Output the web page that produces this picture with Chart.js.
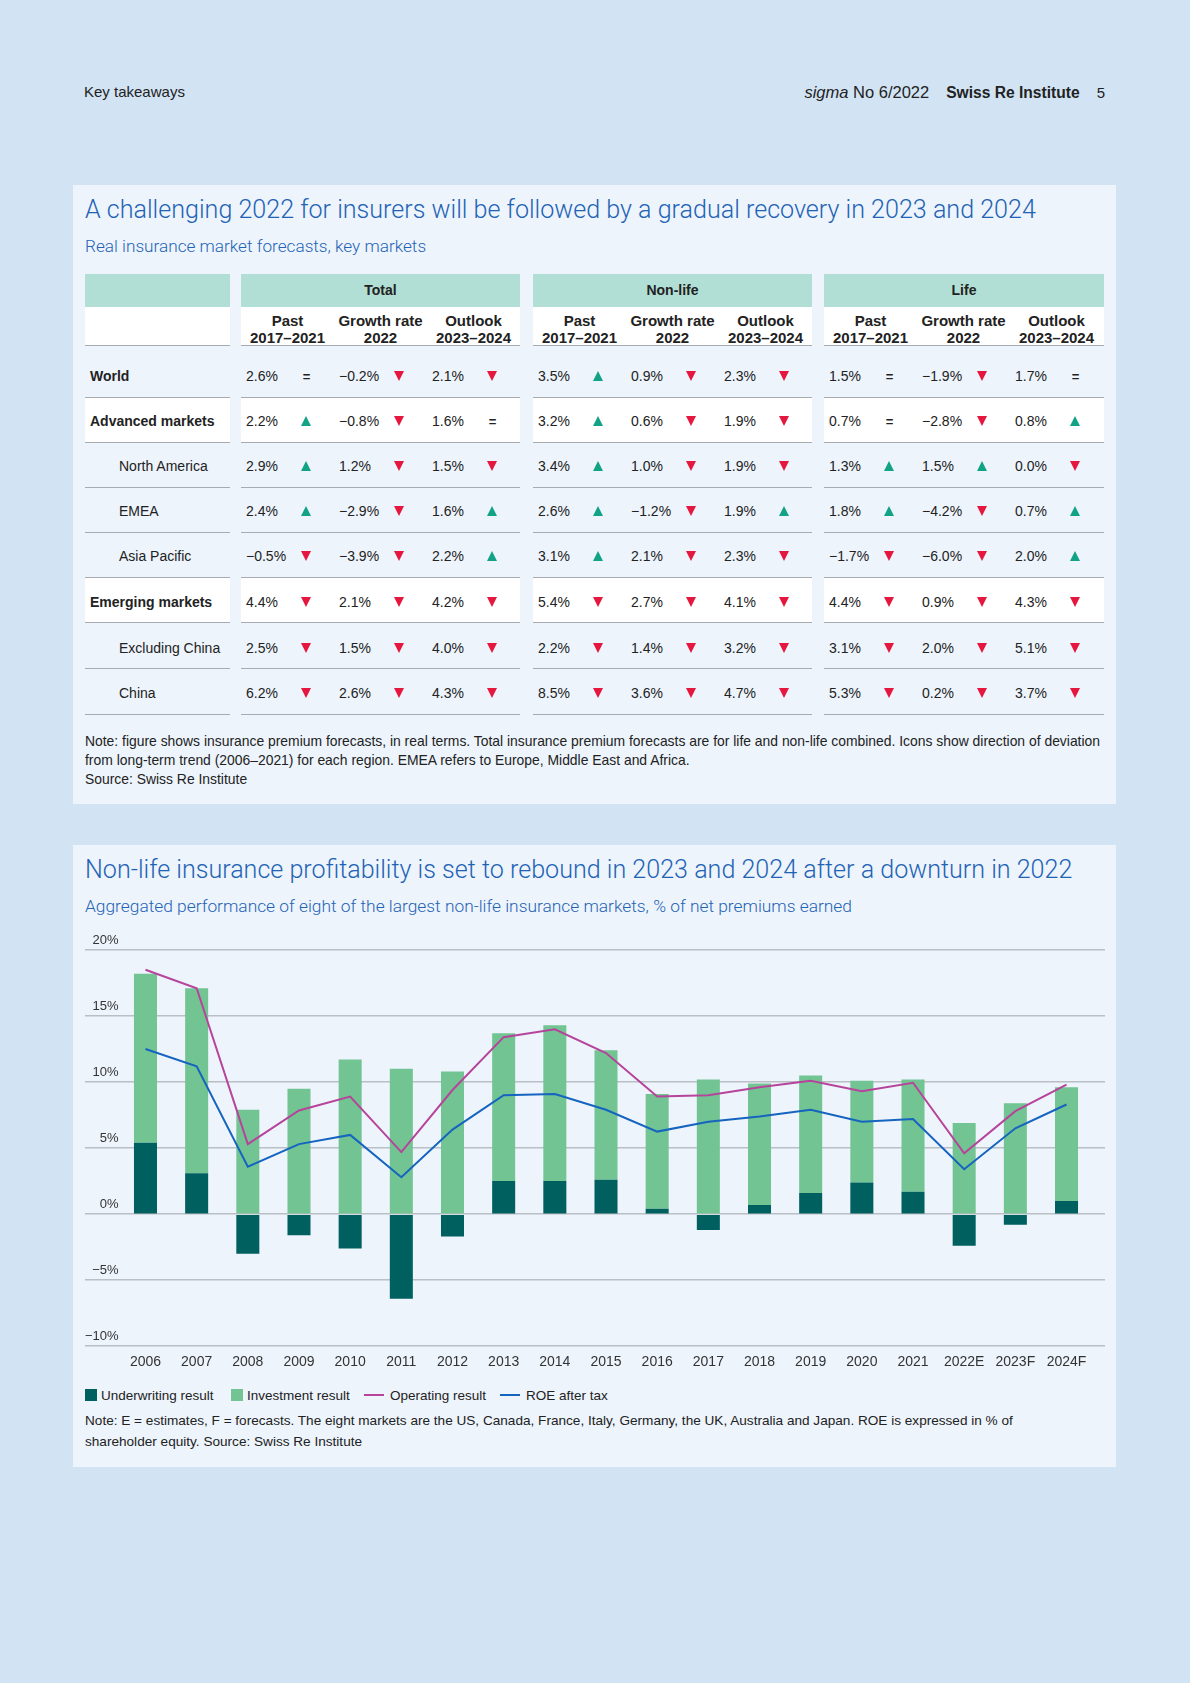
<!DOCTYPE html>
<html>
<head>
<meta charset="utf-8">
<script src="https://cdn.jsdelivr.net/npm/chart.js@4"></script>
<style>
  body { margin: 0; width: 1190px; height: 1683px; background: #d2e4f4; position: relative; overflow: hidden;
         font-family: "Liberation Sans", Arial, sans-serif; color: #222; }
  .abs { position: absolute; white-space: nowrap; }
  .panel { position: absolute; left: 73px; width: 1043px; background: #edf4fc; }
  .title { position: absolute; left: 85px; font-family: Roboto, sans-serif; font-weight: 300; color: #1f63b5;
           font-size: 25.1px; line-height: 30px; white-space: nowrap; }
  .sub { position: absolute; left: 85px; font-family: Roboto, sans-serif; font-weight: 300; color: #1f63b5;
         font-size: 17.2px; line-height: 20px; white-space: nowrap; }
  .note { position: absolute; left: 85px; font-size: 13.9px; color: #222; white-space: nowrap; }
  .blk { position: absolute; }
  .row { position: absolute; left: 0; right: 0; border-bottom: 1.5px solid #a7abb2; box-sizing: border-box; }
  .cell { position: absolute; top: 0; width: 93px; height: 100%; }
  .val { position: absolute; left: 5px; font-size: 14px; }
  .up, .dn { position: absolute; left: 60px; width: 0; height: 0; border-left: 5.5px solid transparent; border-right: 5.5px solid transparent; }
  .up { border-bottom: 10px solid #12a386; }
  .dn { border-top: 10px solid #e5173e; }
  .eq { position: absolute; left: 60px; width: 11px; text-align: center; font-size: 13px; font-weight: bold; }
  .hd { position: absolute; width: 93px; text-align: center; font-weight: bold; font-size: 15px; line-height: 17px; }
  .leg { position: absolute; top: 1387px; font-size: 13.5px; line-height: 18px; white-space: nowrap; }
  .sq { display: inline-block; width: 12px; height: 12px; vertical-align: -1px; margin-right: 4px; }
  .ln { display: inline-block; width: 20px; height: 2px; vertical-align: 4px; margin-right: 6px; }
</style>
</head>
<body>

<div class="abs" style="left:84px; top:83px; font-size:15px;">Key takeaways</div>
<div class="abs" style="right:85px; top:83px; font-size:15px;">
  <span style="font-size:16.5px;"><i>sigma</i> No 6/2022</span><b style="margin-left:17px; font-size:15.6px;">Swiss Re Institute</b><span style="margin-left:17px;">5</span>
</div>

<div class="panel" style="top:185px; height:619px;"></div>
<div class="title" style="top:195px;">A challenging 2022 for insurers will be followed by a gradual recovery in 2023 and 2024</div>
<div class="sub" style="top:236px;">Real insurance market forecasts, key markets</div>
<div id="table"></div>
<div class="note" style="top:732px; line-height:19px;">Note: figure shows insurance premium forecasts, in real terms. Total insurance premium forecasts are for life and non-life combined. Icons show direction of deviation<br>from long-term trend (2006–2021) for each region. EMEA refers to Europe, Middle East and Africa.<br>Source: Swiss Re Institute</div>

<div class="panel" style="top:845px; height:622px;"></div>
<div class="title" style="top:855px;">Non-life insurance profitability is set to rebound in 2023 and 2024 after a downturn in 2022</div>
<div class="sub" style="top:896px; font-size:17.35px;">Aggregated performance of eight of the largest non-life insurance markets, % of net premiums earned</div>

<div class="abs" style="left:0; top:925px; width:1190px; height:454px;">
  <canvas id="chart" width="1190" height="454"></canvas>
</div>

<div class="leg" style="left:85px;"><span class="sq" style="background:#00605f"></span>Underwriting result</div>
<div class="leg" style="left:231px;"><span class="sq" style="background:#72c493"></span>Investment result</div>
<div class="leg" style="left:364px;"><span class="ln" style="background:#b6449b"></span>Operating result</div>
<div class="leg" style="left:500px;"><span class="ln" style="background:#1564c0"></span>ROE after tax</div>
<div class="note" style="top:1410px; line-height:21px; font-size:13.6px;">Note: E = estimates, F = forecasts. The eight markets are the US, Canada, France, Italy, Germany, the UK, Australia and Japan. ROE is expressed in % of<br>shareholder equity. Source: Swiss Re Institute</div>

<script>
// ---- table data ----
const groups = ['Total', 'Non-life', 'Life'];
const subHeads = [['Past', '2017–2021'], ['Growth rate', '2022'], ['Outlook', '2023–2024']];
const regions = ['World', 'Advanced markets', 'North America', 'EMEA', 'Asia Pacific', 'Emerging markets', 'Excluding China', 'China'];
const boldRegion = [true, true, false, false, false, true, false, false];
const whiteRow = [false, true, false, false, false, true, false, false];

// value, icon (u = above trend, d = below, e = in line)
const totalVals = [
  ['2.6%', 'e', '−0.2%', 'd', '2.1%', 'd'],
  ['2.2%', 'u', '−0.8%', 'd', '1.6%', 'e'],
  ['2.9%', 'u', '1.2%', 'd', '1.5%', 'd'],
  ['2.4%', 'u', '−2.9%', 'd', '1.6%', 'u'],
  ['−0.5%', 'd', '−3.9%', 'd', '2.2%', 'u'],
  ['4.4%', 'd', '2.1%', 'd', '4.2%', 'd'],
  ['2.5%', 'd', '1.5%', 'd', '4.0%', 'd'],
  ['6.2%', 'd', '2.6%', 'd', '4.3%', 'd']
];
const nonLifeVals = [
  ['3.5%', 'u', '0.9%', 'd', '2.3%', 'd'],
  ['3.2%', 'u', '0.6%', 'd', '1.9%', 'd'],
  ['3.4%', 'u', '1.0%', 'd', '1.9%', 'd'],
  ['2.6%', 'u', '−1.2%', 'd', '1.9%', 'u'],
  ['3.1%', 'u', '2.1%', 'd', '2.3%', 'd'],
  ['5.4%', 'd', '2.7%', 'd', '4.1%', 'd'],
  ['2.2%', 'd', '1.4%', 'd', '3.2%', 'd'],
  ['8.5%', 'd', '3.6%', 'd', '4.7%', 'd']
];
const lifeVals = [
  ['1.5%', 'e', '−1.9%', 'd', '1.7%', 'e'],
  ['0.7%', 'e', '−2.8%', 'd', '0.8%', 'u'],
  ['1.3%', 'u', '1.5%', 'u', '0.0%', 'd'],
  ['1.8%', 'u', '−4.2%', 'd', '0.7%', 'u'],
  ['−1.7%', 'd', '−6.0%', 'd', '2.0%', 'u'],
  ['4.4%', 'd', '0.9%', 'd', '4.3%', 'd'],
  ['3.1%', 'd', '2.0%', 'd', '5.1%', 'd'],
  ['5.3%', 'd', '0.2%', 'd', '3.7%', 'd']
];

// ---- chart data ----
const years = ['2006', '2007', '2008', '2009', '2010', '2011', '2012', '2013', '2014', '2015',
               '2016', '2017', '2018', '2019', '2020', '2021', '2022E', '2023F', '2024F'];
const underwriting = [5.4, 3.1, -3.0, -1.6, -2.6, -6.4, -1.7, 2.5, 2.5, 2.6, 0.4, -1.2, 0.7, 1.6, 2.4, 1.7, -2.4, -0.8, 1.0];
const investment = [12.8, 14.0, 7.9, 9.5, 11.7, 11.0, 10.8, 11.2, 11.8, 9.8, 8.7, 10.2, 9.2, 8.9, 7.7, 8.5, 6.9, 8.4, 8.6];
const operating = [18.5, 17.1, 5.3, 7.85, 8.9, 4.7, 9.4, 13.4, 14.0, 12.2, 8.9, 9.0, 9.6, 10.1, 9.3, 9.95, 4.6, 7.8, 9.8];
const roe = [12.5, 11.2, 3.6, 5.3, 6.0, 2.8, 6.4, 9.0, 9.1, 7.9, 6.25, 7.0, 7.4, 7.9, 7.0, 7.2, 3.4, 6.5, 8.3];
const yTicks = [-10, -5, 0, 5, 10, 15, 20];

// ---- build table ----
(function () {
  const table = document.querySelector('#table');
  const rowTops = [345, 398, 443, 488, 533, 578, 623, 669, 715];
  const textOffset = [23, 14.5, 15, 15, 15, 16, 16.5, 16];
  const blocks = [{ left: 85, width: 145 }, { left: 241, width: 279 }, { left: 533, width: 279 }, { left: 824, width: 280 }];
  const groupVals = [totalVals, nonLifeVals, lifeVals];

  blocks.forEach((b, bi) => {
    const blk = document.createElement('div');
    blk.className = 'blk';
    blk.style.left = b.left + 'px';
    blk.style.width = b.width + 'px';
    blk.style.top = '274px';
    blk.style.height = (715 - 274) + 'px';

    // teal group header
    const head = document.createElement('div');
    head.style.cssText = 'position:absolute;left:0;right:0;top:0;height:33px;background:#b1dfd5;font-weight:bold;font-size:14px;text-align:center;line-height:33px;';
    head.textContent = bi === 0 ? '' : groups[bi - 1];
    blk.appendChild(head);

    // sub header
    const sh = document.createElement('div');
    sh.className = 'row';
    sh.style.cssText += 'top:33px;height:39px;background:#fff;';
    if (bi > 0) {
      subHeads.forEach((s, si) => {
        const h = document.createElement('div');
        h.className = 'hd';
        h.style.left = (si * 93) + 'px';
        h.style.top = '5px';
        h.innerHTML = s[0] + '<br>' + s[1];
        sh.appendChild(h);
      });
    }
    blk.appendChild(sh);

    regions.forEach((r, ri) => {
      const row = document.createElement('div');
      row.className = 'row';
      row.style.top = (rowTops[ri] - 274) + 'px';
      row.style.height = (rowTops[ri + 1] - rowTops[ri]) + 'px';
      if (whiteRow[ri]) row.style.background = '#fff';
      const ty = textOffset[ri];
      if (bi === 0) {
        const t = document.createElement('div');
        t.className = 'val';
        t.style.top = ty + 'px';
        t.style.fontSize = '14px';
        if (boldRegion[ri]) { t.style.fontWeight = 'bold'; t.style.left = '5px'; }
        else { t.style.left = '34px'; }
        t.textContent = r;
        row.appendChild(t);
      } else {
        const vals = groupVals[bi - 1][ri];
        for (let c = 0; c < 3; c++) {
          const cell = document.createElement('div');
          cell.className = 'cell';
          cell.style.left = (c * 93) + 'px';
          const v = document.createElement('div');
          v.className = 'val';
          v.style.top = ty + 'px';
          v.textContent = vals[c * 2];
          cell.appendChild(v);
          const ic = vals[c * 2 + 1];
          const i = document.createElement('div');
          if (ic === 'e') {
            i.className = 'eq';
            i.textContent = '=';
            i.style.top = (ty + 1) + 'px';
          } else {
            i.className = ic === 'u' ? 'up' : 'dn';
            i.style.top = (ty + 3) + 'px';
          }
          cell.appendChild(i);
          row.appendChild(cell);
        }
      }
      blk.appendChild(row);
    });
    table.appendChild(blk);
  });
})();

// ---- chart ----
(function () {
  const ctx = document.querySelector('#chart').getContext('2d');
  Chart.defaults.font.family = '"Liberation Sans", Arial, sans-serif';
  Chart.defaults.color = '#333';

  const pts = arr => arr.map((v, i) => ({ x: i, y: v }));

  new Chart(ctx, {
    data: {
      datasets: [
        { type: 'bar', label: 'Underwriting result', data: pts(underwriting), backgroundColor: '#00605f',
          stack: 'bars', order: 2, barPercentage: 0.45, categoryPercentage: 1 },
        { type: 'bar', label: 'Investment result', data: pts(investment), backgroundColor: '#72c493',
          stack: 'bars', order: 2, barPercentage: 0.45, categoryPercentage: 1 },
        { type: 'line', label: 'Operating result', data: pts(operating), borderColor: '#b6449b', borderWidth: 2,
          pointRadius: 0, tension: 0, stack: 'op', order: 1 },
        { type: 'line', label: 'ROE after tax', data: pts(roe), borderColor: '#1564c0', borderWidth: 2,
          pointRadius: 0, tension: 0, stack: 'roe', order: 1 }
      ]
    },
    options: {
      responsive: false,
      animation: false,
      layout: { padding: { left: 85, right: 85, top: 25, bottom: 0 } },
      plugins: { legend: { display: false }, tooltip: { enabled: false } },
      scales: {
        x: {
          type: 'linear',
          offset: false,
          min: -1.182,
          max: 18.752,
          grid: { display: false, drawTicks: false, offset: false },
          border: { display: false },
          afterBuildTicks: axis => { axis.ticks = years.map((_, i) => ({ value: i })); },
          ticks: {
            autoSkip: false, maxRotation: 0, padding: 8,
            font: { size: 14 }, color: '#333',
            callback: v => years[v]
          }
        },
        y: {
          stacked: true,
          min: yTicks[0],
          max: yTicks[yTicks.length - 1],
          afterBuildTicks: axis => { axis.ticks = yTicks.map(v => ({ value: v })); },
          grid: { color: '#babec5', lineWidth: 1.5, drawTicks: false },
          border: { display: false },
          ticks: {
            mirror: true, crossAlign: 'far', padding: 0, labelOffset: -10,
            font: { size: 13 }, color: '#333',
            callback: v => (v < 0 ? '−' + (-v) : v) + '%'
          }
        }
      }
    }
  });
})();
</script>
</body>
</html>
